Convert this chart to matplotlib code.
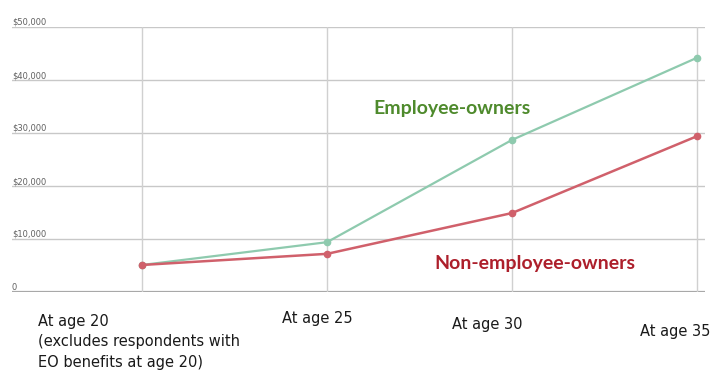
import matplotlib
matplotlib.use('Agg')
import matplotlib.pyplot as plt
import matplotlib.transforms as mtransforms

# data
ages = ['At age 20\n(excludes respondents with\nEO benefits at age 20)',
        'At age 25', 'At age 30', 'At age 35']
eo_values = [5100, 9400, 28700, 44200]
non_eo_values = [5100, 7200, 14900, 29400]
y_ticks = [0, 10000, 20000, 30000, 40000, 50000]
y_tick_labels = ['0', '$10,000', '$20,000', '$30,000', '$40,000', '$50,000']

# pixel offsets of the category labels relative to their grid line
label_dx = [-104, -45, -60, -57]
label_dy = [-22, -19, -25, -32]

GREEN_LINE = '#8ecaae'
RED_LINE = '#d0606b'
GREEN_TEXT = '#4e8a2c'
RED_TEXT = '#ad1f2b'

fig = plt.figure(figsize=(7.15, 3.74), dpi=100, facecolor='white')
ax = fig.add_axes([12 / 715, 82 / 374, 693 / 715, 265 / 374])

x = list(range(len(ages)))
ax.plot(x, eo_values, color=GREEN_LINE, linewidth=1.6, marker='o',
        markersize=4.5, zorder=3)
ax.plot(x, non_eo_values, color=RED_LINE, linewidth=1.8, marker='o',
        markersize=4.5, zorder=4)

ax.set_xlim(-0.703, 3.043)
ax.set_ylim(0, 50000)

# horizontal grid
for t in y_ticks[1:]:
    ax.axhline(t, color='#c8c8c8', linewidth=1.0, zorder=1)
ax.axhline(0, color='#a8a8a8', linewidth=1.6, zorder=1)
# vertical grid at each category
for i in x:
    ax.axvline(i, color='#d0d0d0', linewidth=1.0, zorder=1)

ax.set_xticks([])
ax.set_yticks([])
for s in ax.spines.values():
    s.set_visible(False)

# y labels sit just above their grid line at the left edge
trans = mtransforms.blended_transform_factory(ax.transAxes, ax.transData)
for t, lab in zip(y_ticks, y_tick_labels):
    ax.text(0.0, t, lab, transform=trans, ha='left', va='bottom',
            fontsize=6, color='#606060', family='DejaVu Sans')

# category labels below the axis
for i, lab in enumerate(ages):
    ax.annotate(lab, xy=(i, 0), xytext=(label_dx[i], label_dy[i]),
                textcoords='offset pixels', ha='left', va='top',
                fontsize=10.5, color='#1a1a1a', family='DejaVu Sans',
                linespacing=1.45, annotation_clip=False)

ax.text(1.678, 34700, 'Employee-owners', ha='center', va='center',
        fontsize=14, fontweight='bold', color=GREEN_TEXT, family='Lato')
ax.text(2.124, 5470, 'Non-employee-owners', ha='center', va='center',
        fontsize=14, fontweight='bold', color=RED_TEXT, family='Lato')

fig.savefig('out.png', dpi=100, facecolor='white')
